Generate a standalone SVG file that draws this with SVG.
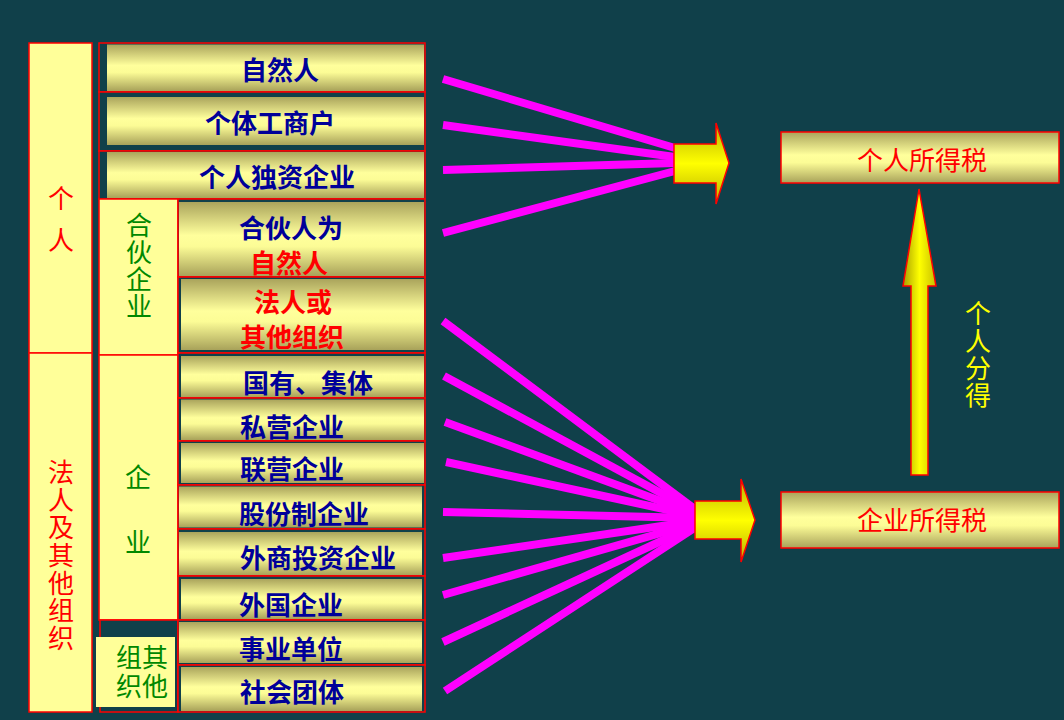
<svg xmlns="http://www.w3.org/2000/svg" width="1064" height="720" viewBox="0 0 1064 720">
<defs>
<linearGradient id="rowg" x1="0" y1="0" x2="0" y2="1">
<stop offset="0" stop-color="#aaa45c"/>
<stop offset="0.45" stop-color="#ffff9c"/>
<stop offset="0.6" stop-color="#fcfc96"/>
<stop offset="1" stop-color="#a8a25a"/>
</linearGradient>
<linearGradient id="arrh" x1="0" y1="0" x2="0" y2="1">
<stop offset="0" stop-color="#b8b000"/>
<stop offset="0.5" stop-color="#ffff00"/>
<stop offset="1" stop-color="#b8b000"/>
</linearGradient>
<linearGradient id="arrv" x1="0" y1="0" x2="1" y2="0">
<stop offset="0" stop-color="#a8a000"/>
<stop offset="0.5" stop-color="#ffff00"/>
<stop offset="1" stop-color="#c8c000"/>
</linearGradient>
<style>
.bg{fill:#10404a}
.cell{fill:#10404a;stroke:#ff0000;stroke-width:1.5}
.pale{fill:#ffff99;stroke:#ff0000;stroke-width:1.5}
.grad{fill:url(#rowg)}
.box{fill:url(#rowg);stroke:#ff0000;stroke-width:1.5}
.t{font-family:"Noto Sans CJK SC","Noto Sans CJK JP",sans-serif;font-size:26px;text-anchor:middle;dominant-baseline:central}
.v{writing-mode:vertical-rl;glyph-orientation-vertical:0}
.blue{fill:#000099;font-weight:bold}
.redb{fill:#ff0000;font-weight:bold}
.red{fill:#ff0000}
.green{fill:#008800}
.yel{fill:#ffff00}
.mag{stroke:#ff00ff;stroke-width:8;fill:none}
.arr{stroke:#ff0000;stroke-width:1.5;stroke-linejoin:miter}
</style>
</defs>
<rect class="bg" x="0" y="0" width="1064" height="720"/>

<g id="col-geren">
<rect class="pale" x="29" y="43" width="63" height="310"/>
<text class="t red" x="61" y="196">个</text>
<text class="t red" x="61" y="238">人</text>
</g>
<g id="col-faren">
<rect class="pale" x="29" y="353" width="63" height="359"/>
<text class="t v red" x="61" y="556" letter-spacing="1.7">法人及其他组织</text>
</g>

<g id="row-zirenren">
<rect class="cell" x="99" y="43" width="326" height="49"/>
<rect class="grad" x="107" y="44.5" width="317" height="46.5"/>
<text class="t blue" x="280" y="68">自然人</text>
</g>
<g id="row-getigongshanghu">
<rect class="cell" x="99" y="92" width="326" height="59"/>
<rect class="grad" x="107" y="97" width="317" height="48"/>
<text class="t blue" x="270" y="121">个体工商户</text>
</g>
<g id="row-gerenduzi">
<rect class="cell" x="99" y="151" width="326" height="48"/>
<rect class="grad" x="107" y="152" width="317" height="46"/>
<text class="t blue" x="277" y="175">个人独资企业</text>
</g>

<g id="col-hehuo">
<rect class="pale" x="99" y="199" width="79" height="156"/>
<text class="t v green" x="139" y="266" letter-spacing="0.7">合伙企业</text>
</g>
<g id="col-qiye">
<rect class="pale" x="99" y="355" width="79" height="265"/>
<text class="t green" x="138" y="475">企</text>
<text class="t green" x="138" y="540">业</text>
</g>
<g id="col-qita">
<rect class="cell" x="100" y="620" width="78" height="92"/>
<rect x="96" y="637" width="79" height="70" fill="#ffff99"/>
<text class="t v green" x="155" y="673" letter-spacing="3">其他</text>
<text class="t v green" x="129" y="673" letter-spacing="3">组织</text>
</g>

<g id="row-hehuo-ziran">
<rect class="cell" x="178" y="199" width="247" height="78"/>
<rect class="grad" x="179" y="202" width="245" height="74"/>
<text class="t blue" x="291" y="226">合伙人为</text>
<text class="t redb" x="289" y="261">自然人</text>
</g>
<g id="row-hehuo-faren">
<rect class="cell" x="178" y="277" width="247" height="76"/>
<rect class="grad" x="181" y="279" width="243" height="71"/>
<text class="t redb" x="293" y="300">法人或</text>
<text class="t redb" x="292" y="335">其他组织</text>
</g>
<g id="row-guoyou">
<rect class="cell" x="178" y="353" width="247" height="45"/>
<rect class="grad" x="181" y="356" width="243" height="41"/>
<text class="t blue" x="308" y="381">国有、集体</text>
</g>
<g id="row-siying">
<rect class="cell" x="178" y="398" width="247" height="43"/>
<rect class="grad" x="181" y="399.5" width="243" height="40.5"/>
<text class="t blue" x="292" y="425">私营企业</text>
</g>
<g id="row-lianying">
<rect class="cell" x="178" y="441" width="247" height="44"/>
<rect class="grad" x="181" y="443" width="243" height="40"/>
<text class="t blue" x="292" y="467">联营企业</text>
</g>
<g id="row-gufen">
<rect class="cell" x="178" y="485" width="247" height="44"/>
<rect class="grad" x="179" y="486.5" width="243" height="41"/>
<text class="t blue" x="304" y="512">股份制企业</text>
</g>
<g id="row-waishang">
<rect class="cell" x="178" y="529" width="247" height="47"/>
<rect class="grad" x="179" y="532" width="243" height="43"/>
<text class="t blue" x="318" y="556">外商投资企业</text>
</g>
<g id="row-waiguo">
<rect class="cell" x="178" y="576" width="247" height="44"/>
<rect class="grad" x="181" y="579" width="241" height="40"/>
<text class="t blue" x="291" y="603">外国企业</text>
</g>
<g id="row-shiye">
<rect class="cell" x="178" y="620" width="247" height="45"/>
<rect class="grad" x="179" y="622" width="243" height="41"/>
<text class="t blue" x="291" y="647">事业单位</text>
</g>
<g id="row-shehui">
<rect class="cell" x="178" y="665" width="247" height="47"/>
<rect class="grad" x="181" y="667" width="241" height="44"/>
<text class="t blue" x="292" y="690">社会团体</text>
</g>

<g id="connectors">
<line class="mag" x1="443" y1="79" x2="675" y2="148"/>
<line class="mag" x1="443" y1="125" x2="675" y2="157"/>
<line class="mag" x1="443" y1="170" x2="675" y2="163"/>
<line class="mag" x1="443" y1="233" x2="675" y2="171"/>

<line class="mag" x1="443" y1="321" x2="696" y2="510"/>
<line class="mag" x1="444" y1="376" x2="696" y2="512"/>
<line class="mag" x1="445" y1="422" x2="696" y2="514"/>
<line class="mag" x1="446" y1="462" x2="696" y2="516"/>
<line class="mag" x1="443" y1="512" x2="696" y2="518"/>
<line class="mag" x1="443" y1="558" x2="696" y2="521"/>
<line class="mag" x1="443" y1="595" x2="696" y2="523"/>
<line class="mag" x1="443" y1="642" x2="696" y2="525"/>
<line class="mag" x1="445" y1="691" x2="696" y2="527"/>

<path id="arrow-top" class="arr" fill="url(#arrh)" d="M674,144 L716,144 L716,123 L729,163 L716,204 L716,183 L674,183 Z"/>
<path id="arrow-bottom" class="arr" fill="url(#arrh)" d="M695,501 L741,501 L741,479 L755,520 L741,562 L741,539 L695,539 Z"/>
<path id="arrow-up" class="arr" fill="url(#arrv)" d="M911,475 L911,286 L903,286 L919,189 L936,286 L928,286 L928,475 Z"/>
<text class="t v yel" x="978" y="355" letter-spacing="1.3">个人分得</text>
</g>

<g id="box-gerensuodeshui">
<rect class="box" x="781" y="132" width="278" height="51"/>
<text class="t red" x="922" y="158">个人所得税</text>
</g>
<g id="box-qiyesuodeshui">
<rect class="box" x="781" y="492" width="278" height="56"/>
<text class="t red" x="922" y="518">企业所得税</text>
</g>
</svg>
